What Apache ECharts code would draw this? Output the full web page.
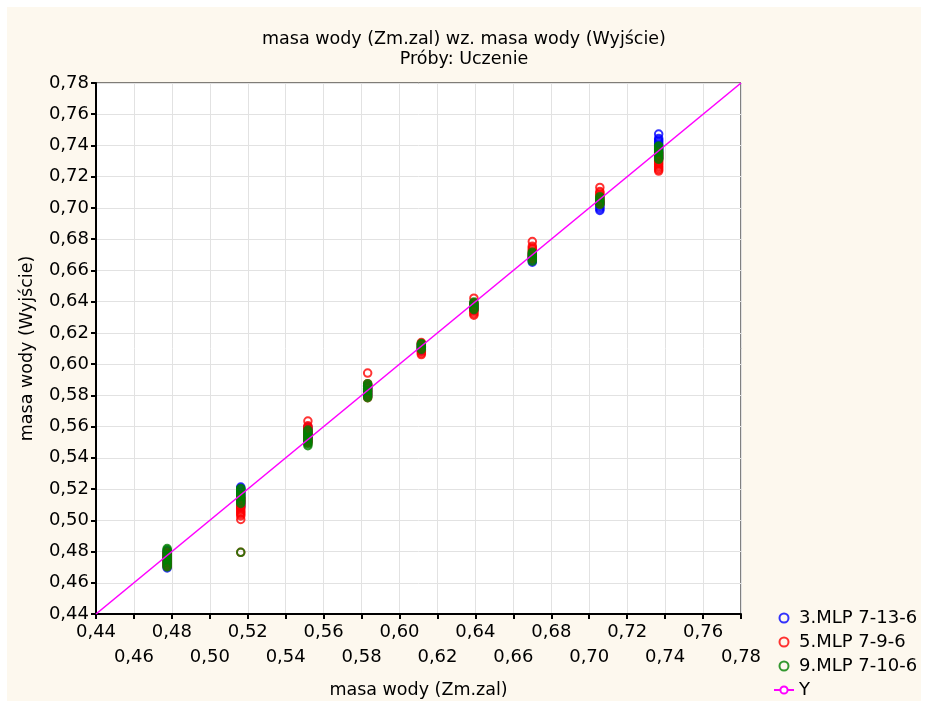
<!DOCTYPE html>
<html>
<head>
<meta charset="utf-8">
<script src="https://cdn.jsdelivr.net/npm/echarts@6/dist/echarts.min.js"></script>
<style>
  html, body { margin: 0; padding: 0; background: #fff; }
  #main { width: 928px; height: 704px; }
</style>
</head>
<body>
<div id="main"></div>
<script>
// target values (Zm.zal) - one column of points per value
var xVals = [0.4775, 0.5163, 0.5517, 0.5832, 0.6115, 0.6392, 0.6700, 0.7056, 0.7366];

// network outputs (Wyjście), listed per column
var mlp3 = [
    [0.4695, 0.4705, 0.4715, 0.4725, 0.4735, 0.4745, 0.4755, 0.4765, 0.4775, 0.4785, 0.4795, 0.4805],
    [0.5085, 0.5095, 0.5105, 0.5115, 0.5125, 0.5135, 0.5145, 0.5155, 0.5165, 0.5175, 0.5185, 0.5195, 0.5205, 0.5213],
    [0.5505, 0.5515, 0.5525, 0.5535, 0.5545, 0.5555, 0.5565, 0.5575, 0.5585, 0.5597],
    [0.5795, 0.5805, 0.5815, 0.5825, 0.5835, 0.5845, 0.5855, 0.5865],
    [0.6085, 0.6095, 0.6105, 0.6115, 0.6125],
    [0.6345, 0.6355, 0.6365, 0.6375, 0.6385],
    [0.6653, 0.6663, 0.6673, 0.6683, 0.6693, 0.6703],
    [0.6984, 0.6994, 0.7004, 0.7014, 0.7024, 0.7034, 0.7044],
    [0.7315, 0.7325, 0.7335, 0.7345, 0.7355, 0.7365, 0.7375, 0.7385, 0.7395, 0.7405, 0.7415, 0.7425, 0.7435, 0.7445, 0.7473]
];
var mlp5 = [
    [0.4705, 0.4715, 0.4725, 0.4735, 0.4745, 0.4755, 0.4765, 0.4775, 0.4785, 0.4795],
    [0.4795, 0.5005, 0.5028, 0.5038, 0.5048, 0.5058, 0.5068, 0.5078, 0.5088, 0.5098, 0.5108, 0.5118, 0.5128, 0.5138, 0.5148],
    [0.5495, 0.5505, 0.5515, 0.5525, 0.5535, 0.5545, 0.5555, 0.5565, 0.5575, 0.5585, 0.5595, 0.5605, 0.5635],
    [0.5785, 0.5795, 0.5805, 0.5815, 0.5825, 0.5835, 0.5845, 0.5855, 0.5865, 0.5875, 0.5943],
    [0.6061, 0.6071, 0.6081, 0.6091, 0.6101, 0.6111, 0.6121, 0.6131, 0.6138],
    [0.6313, 0.6323, 0.6333, 0.6343, 0.6353, 0.6363, 0.6373, 0.6383, 0.6393, 0.6422],
    [0.6675, 0.6685, 0.6695, 0.6705, 0.6715, 0.6725, 0.6735, 0.6745, 0.6755, 0.6785],
    [0.7025, 0.7035, 0.7045, 0.7055, 0.7065, 0.7075, 0.7085, 0.7095, 0.7105, 0.7131],
    [0.7236, 0.7246, 0.7256, 0.7266, 0.7276, 0.7286, 0.7296, 0.7306, 0.7316, 0.7326, 0.7336, 0.7346, 0.7356]
];
var mlp9 = [
    [0.4701, 0.4711, 0.4721, 0.4731, 0.4741, 0.4751, 0.4761, 0.4771, 0.4781, 0.4791, 0.4801, 0.4811, 0.4819],
    [0.4795, 0.5108, 0.5118, 0.5128, 0.5138, 0.5148, 0.5158, 0.5168, 0.5178, 0.5188, 0.5198, 0.5204],
    [0.5478, 0.5488, 0.5498, 0.5508, 0.5518, 0.5528, 0.5538, 0.5548, 0.5558, 0.5568, 0.5578],
    [0.5785, 0.5795, 0.5805, 0.5815, 0.5825, 0.5835, 0.5845, 0.5855, 0.5865, 0.5875],
    [0.6095, 0.6105, 0.6115, 0.6125, 0.6132],
    [0.6349, 0.6359, 0.6369, 0.6379, 0.6389, 0.6397],
    [0.6659, 0.6669, 0.6679, 0.6689, 0.6699, 0.6709, 0.6717],
    [0.7022, 0.7032, 0.7042, 0.7052, 0.7062, 0.7072],
    [0.7311, 0.7321, 0.7331, 0.7341, 0.7351, 0.7361, 0.7371, 0.7381, 0.7391, 0.7397]
];
// reference line Y = X
var lineY = [[0.44, 0.44], [0.78, 0.78]];

var seriesNames = ['3.MLP 7-13-6', '5.MLP 7-9-6', '9.MLP 7-10-6', 'Y'];
var seriesColors = ['#0000ff', '#ff0000', '#008000', '#ff00ff'];

function toPoints(cols) {
    var res = [];
    for (var i = 0; i < cols.length; i++) {
        for (var j = 0; j < cols[i].length; j++) {
            res.push([xVals[i], cols[i][j]]);
        }
    }
    return res;
}

function fmt(v) {
    return v.toFixed(2).replace('.', ',');
}

var font = 'DejaVu Sans, Verdana, sans-serif';
var fs = 18;
var chart = echarts.init(document.getElementById('main'));

// hollow rings with a transparent centre, so overlapping points build a solid column
function scatterSeries(idx, cols) {
    return {
        name: seriesNames[idx],
        type: 'scatter',
        symbol: 'circle',
        symbolSize: 7.5,
        itemStyle: {color: 'rgba(0,0,0,0)', borderColor: seriesColors[idx], borderWidth: 2},
        data: toPoints(cols),
        z: 3 + idx
    };
}

// bottom axis: even ticks on the first row, odd ticks on a second row (staggered labels)
function xAxisRow(row) {
    return {
        type: 'value',
        position: 'bottom',
        min: 0.44, max: 0.78, interval: 0.02,
        name: row === 0 ? 'masa wody (Zm.zal)' : '',
        nameLocation: 'middle',
        nameGap: 67,
        nameTextStyle: {fontFamily: font, fontSize: 17.5, color: '#000'},
        axisLine: {show: row === 0, lineStyle: {color: '#000', width: 2}},
        axisTick: {show: row === 0, length: 5, lineStyle: {color: '#000', width: 2}},
        splitLine: {show: row === 0, lineStyle: {color: '#e2e2e2', width: 1}},
        axisLabel: {
            interval: 0,
            showMinLabel: true, showMaxLabel: true,
            margin: row === 0 ? 9 : 34,
            fontFamily: font, fontSize: fs, color: '#000',
            formatter: function (v, i) {
                return i % 2 === row ? fmt(v) : '';
            }
        }
    };
}

var option = {
    backgroundColor: '#ffffff',
    animation: false,
    graphic: [{
        type: 'rect',
        z: -100,
        shape: {x: 7, y: 7, width: 914, height: 694},
        style: {fill: '#fdf8ee'}
    }],
    title: {
        text: 'masa wody (Zm.zal) wz. masa wody (Wyjście)',
        subtext: 'Próby: Uczenie',
        left: 'center',
        top: 25,
        itemGap: 2,
        textStyle: {fontFamily: font, fontSize: 17.5, fontWeight: 'normal', color: '#000'},
        subtextStyle: {fontFamily: font, fontSize: 17.5, color: '#000'}
    },
    legend: {
        orient: 'vertical',
        left: 768,
        top: 603,
        height: 100,
        itemWidth: 20,
        itemHeight: 9,
        itemGap: 4,
        textStyle: {fontFamily: font, fontSize: fs, color: '#000', lineHeight: 20},
        data: seriesNames
    },
    grid: {
        left: 96, right: 187, top: 83, bottom: 89,
        show: true,
        backgroundColor: '#ffffff',
        borderColor: '#000',
        borderWidth: 1
    },
    xAxis: [xAxisRow(0), xAxisRow(1)],
    yAxis: {
        type: 'value',
        min: 0.44, max: 0.78, interval: 0.02,
        name: 'masa wody (Wyjście)',
        nameLocation: 'middle',
        nameGap: 60,
        nameTextStyle: {fontFamily: font, fontSize: 17.5, color: '#000'},
        axisLine: {show: true, lineStyle: {color: '#000', width: 2}},
        axisTick: {show: true, length: 5, lineStyle: {color: '#000', width: 2}},
        splitLine: {show: true, lineStyle: {color: '#e2e2e2', width: 1}},
        axisLabel: {
            margin: 7,
            fontFamily: font, fontSize: fs, color: '#000',
            formatter: function (v) { return fmt(v); }
        }
    },
    series: [
        scatterSeries(0, mlp3),
        scatterSeries(1, mlp5),
        scatterSeries(2, mlp9),
        {
            name: seriesNames[3],
            type: 'line',
            symbol: 'emptyCircle',
            symbolSize: 7,
            showSymbol: false,
            itemStyle: {color: seriesColors[3]},
            lineStyle: {color: seriesColors[3], width: 1.6},
            data: lineY,
            z: 10
        }
    ]
};

chart.setOption(option);
</script>
</body>
</html>
